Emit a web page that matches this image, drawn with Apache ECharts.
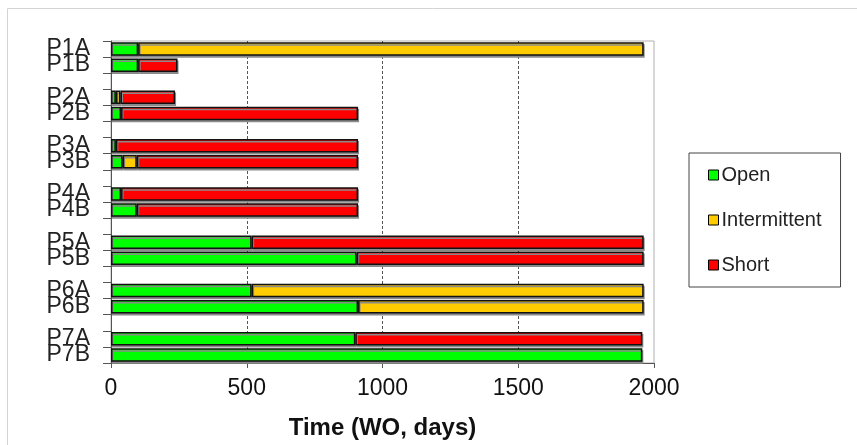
<!DOCTYPE html>
<html>
<head>
<meta charset="utf-8">
<script src="https://cdn.jsdelivr.net/npm/echarts@6/dist/echarts.min.js"></script>
<style>
  html, body { margin: 0; padding: 0; background: #fff; }
  #chart { width: 857px; height: 445px; }
</style>
</head>
<body>
<div id="chart"></div>
<script>
// categories, with empty slots as spacers between the pairs
const categories = ['P1A', 'P1B', '', 'P2A', 'P2B', '', 'P3A', 'P3B', '', 'P4A', 'P4B', '',
  'P5A', 'P5B', '', 'P6A', 'P6B', '', 'P7A', 'P7B']

// segment lengths in days (stacked: open, then intermittent, then short); null = no segment
const openDays         = [100, 100, null, 18, 37, null, 18, 43, null, 37, 95, null, 518, 905, null, 518, 910, null, 900, 1957]
const intermittentDays = [1862, null, null, 17, null, null, null, 52, null, null, null, null, null, null, null, 1444, 1052, null, null, null]
const shortDays        = [null, 145, null, 201, 873, null, 892, 815, null, 873, 815, null, 1444, 1057, null, null, null, null, 1057, null]

const xTicks = { min: 0, max: 2000, interval: 500 }

const myChart = echarts.init(document.getElementById('chart'))

const barStyle = (color) => ({
  color: color,
  borderColor: '#111',
  borderWidth: 1.5,
  shadowColor: '#8a8a8a',
  shadowBlur: 0,
  shadowOffsetX: 1,
  shadowOffsetY: 2
})

const mkSeries = (name, data, color) => ({
  name: name,
  type: 'bar',
  stack: 'total',
  data: data,
  barWidth: '84%',
  itemStyle: barStyle(color),
  emphasis: { disabled: true }
})

myChart.setOption({
  animation: false,
  textStyle: { fontFamily: 'Liberation Sans, Arial, sans-serif' },
  graphic: [{
    type: 'rect',
    shape: { x: 7.5, y: 8.5, width: 900, height: 500 },
    style: { fill: 'none', stroke: '#d4d4d4', lineWidth: 1 },
    silent: true
  }],
  grid: {
    left: 111,
    right: 203,
    top: 41,
    bottom: 80,
    show: true,
    borderColor: '#b0b0b0',
    borderWidth: 1
  },
  legend: {
    orient: 'vertical',
    left: 689,
    top: 153,
    padding: [12, 19, 12, 19],
    itemGap: 25,
    itemWidth: 10,
    itemHeight: 10,
    icon: 'rect',
    borderColor: '#444',
    borderWidth: 1,
    itemStyle: { borderColor: '#000', borderWidth: 1, shadowColor: 'transparent', shadowOffsetX: 0, shadowOffsetY: 0 },
    textStyle: { fontSize: 20, color: '#222', lineHeight: 20, padding: [0, 0, 0, -2] },
    data: ['Open', 'Intermittent', 'Short']
  },
  xAxis: {
    type: 'value',
    min: xTicks.min,
    max: xTicks.max,
    interval: xTicks.interval,
    name: 'Time (WO, days)',
    nameLocation: 'middle',
    nameGap: 53,
    nameTextStyle: { fontSize: 24, fontWeight: 'bold', color: '#111' },
    axisLine: { show: true, lineStyle: { color: '#555', width: 1 } },
    axisTick: { show: true, length: 5, lineStyle: { color: '#555' } },
    axisLabel: { fontSize: 23, color: '#111', margin: 14, formatter: (v) => String(v) },
    splitLine: {
      show: true,
      showMinLine: false,
      showMaxLine: false,
      lineStyle: { color: '#555', type: [3, 2], width: 1 }
    }
  },
  yAxis: {
    type: 'category',
    inverse: true,
    data: categories,
    axisLine: { show: true, lineStyle: { color: '#555', width: 1 } },
    axisTick: { show: true, length: 8, interval: 0, lineStyle: { color: '#555' } },
    axisLabel: { fontSize: 23, color: '#222', margin: 21, interval: 0 },
    splitLine: { show: false }
  },
  series: [
    mkSeries('Open', openDays, '#00ff00'),
    mkSeries('Intermittent', intermittentDays, '#ffcc00'),
    mkSeries('Short', shortDays, '#ff0000')
  ]
})
</script>
</body>
</html>
